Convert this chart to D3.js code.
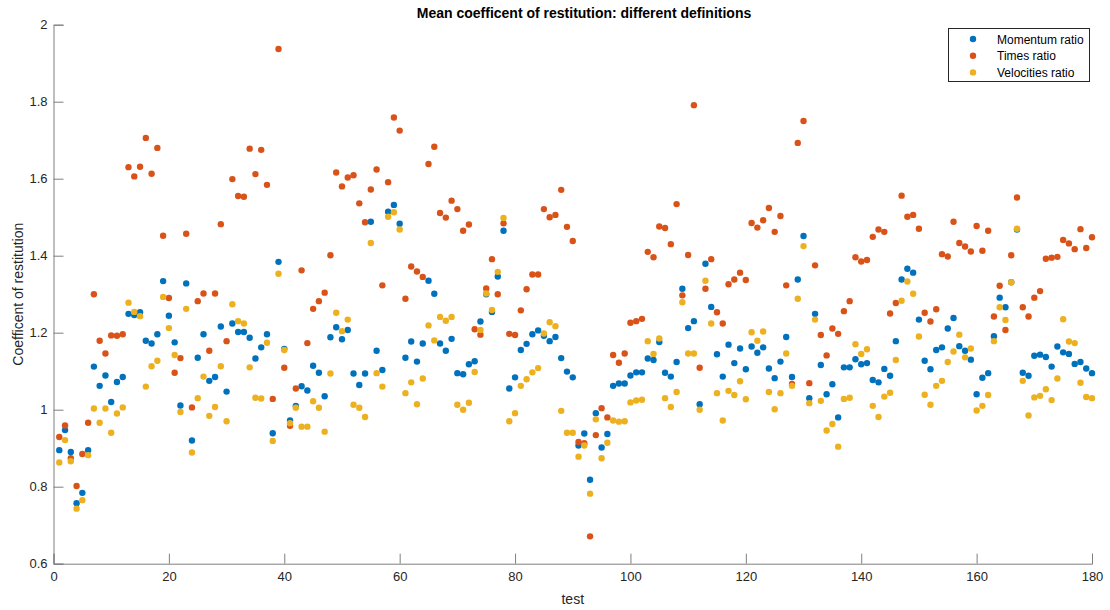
<!DOCTYPE html>
<html>
<head>
<meta charset="utf-8">
<script src="https://cdn.jsdelivr.net/npm/d3@7"></script>
<style>
  html, body { margin: 0; padding: 0; background: #fff; }
  svg { display: block; font-family: "Liberation Sans", Arial, Helvetica, sans-serif; }
</style>
</head>
<body>
<svg id="chart" width="1110" height="610"></svg>
<script>
// Mean coefficient of restitution per test, three definitions
const tests = d3.range(1, 181);

const momentumRatio = [
  0.895, 0.947, 0.890, 0.757, 0.784, 0.895, 1.112, 1.062, 1.089, 1.020,
  1.072, 1.085, 1.249, 1.246, 1.253, 1.179, 1.172, 1.196, 1.334, 1.244,
  1.175, 1.011, 1.328, 0.920, 1.135, 1.196, 1.075, 1.085, 1.216, 1.047,
  1.224, 1.202, 1.202, 1.187, 1.133, 1.162, 1.196, 0.939, 1.384, 1.158,
  0.972, 1.010, 1.061, 1.050, 1.114, 1.096, 1.035, 1.188, 1.214, 1.183,
  1.207, 1.094, 1.064, 1.094, 1.488, 1.153, 1.103, 1.514, 1.532, 1.483,
  1.135, 1.177, 1.125, 1.172, 1.335, 1.301, 1.172, 1.153, 1.184, 1.095,
  1.092, 1.118, 1.126, 1.229, 1.300, 1.254, 1.346, 1.465, 1.055, 1.084,
  1.155, 1.171, 1.196, 1.206, 1.192, 1.178, 1.189, 1.134, 1.099, 1.084,
  0.907, 0.938, 0.818, 0.991, 0.902, 0.937, 1.062, 1.068, 1.068, 1.089,
  1.097, 1.097, 1.133, 1.129, 1.176, 1.096, 1.086, 1.124, 1.314, 1.212,
  1.230, 1.014, 1.379, 1.267, 1.144, 1.086, 1.169, 1.121, 1.159, 1.105,
  1.164, 1.148, 1.162, 1.107, 1.082, 1.125, 1.189, 1.085, 1.338, 1.451,
  1.030, 1.249, 1.116, 1.040, 1.066, 0.980, 1.110, 1.110, 1.131, 1.118,
  1.121, 1.077, 1.071, 1.106, 1.088, 1.178, 1.338, 1.366, 1.356, 1.234,
  1.127, 1.105, 1.155, 1.162, 1.211, 1.238, 1.165, 1.153, 1.130, 1.040,
  1.083, 1.095, 1.191, 1.291, 1.266, 1.331, 1.468, 1.096, 1.088, 1.140,
  1.143, 1.137, 1.112, 1.164, 1.149, 1.145, 1.119, 1.124, 1.107, 1.095
];

const timesRatio = [
  0.929, 0.959, 0.874, 0.802, 0.885, 0.966, 1.300, 1.179, 1.146, 1.193,
  1.192, 1.196, 1.630, 1.606, 1.631, 1.706, 1.613, 1.680, 1.452, 1.290,
  1.096, 1.134, 1.457, 1.006, 1.282, 1.302, 1.153, 1.302, 1.482, 1.178,
  1.599, 1.555, 1.553, 1.678, 1.612, 1.675, 1.584, 1.028, 1.937, 1.109,
  0.958, 1.055, 1.362, 1.173, 1.262, 1.282, 1.304, 1.401, 1.616, 1.580,
  1.603, 1.609, 1.536, 1.487, 1.572, 1.624, 1.323, 1.591, 1.759, 1.725,
  1.288, 1.372, 1.359, 1.345, 1.638, 1.683, 1.511, 1.499, 1.543, 1.521,
  1.465, 1.481, 1.209, 1.195, 1.315, 1.391, 1.300, 1.484, 1.197, 1.194,
  1.258, 1.313, 1.351, 1.351, 1.521, 1.500, 1.506, 1.571, 1.475, 1.438,
  0.916, 0.913, 0.671, 0.934, 1.004, 0.980, 1.142, 1.122, 1.146, 1.226,
  1.230, 1.236, 1.410, 1.396, 1.476, 1.472, 1.430, 1.534, 1.297, 1.402,
  1.791, 1.109, 1.314, 1.391, 1.253, 1.224, 1.326, 1.338, 1.356, 1.337,
  1.485, 1.473, 1.492, 1.524, 1.462, 1.503, 1.323, 1.067, 1.693, 1.750,
  1.069, 1.375, 1.194, 1.141, 1.211, 1.197, 1.256, 1.282, 1.396, 1.385,
  1.389, 1.449, 1.468, 1.462, 1.250, 1.277, 1.556, 1.501, 1.506, 1.470,
  1.252, 1.229, 1.261, 1.404, 1.398, 1.488, 1.433, 1.424, 1.411, 1.477,
  1.413, 1.465, 1.242, 1.322, 1.207, 1.401, 1.551, 1.266, 1.242, 1.291,
  1.308, 1.392, 1.395, 1.397, 1.441, 1.432, 1.417, 1.469, 1.420, 1.448
];

const velocitiesRatio = [
  0.863, 0.921, 0.866, 0.743, 0.765, 0.882, 1.003, 0.966, 1.003, 0.940,
  0.990, 1.006, 1.278, 1.254, 1.243, 1.060, 1.113, 1.127, 1.293, 1.212,
  1.142, 0.994, 1.262, 0.889, 1.030, 1.086, 0.984, 1.007, 1.113, 0.970,
  1.274, 1.230, 1.224, 1.110, 1.031, 1.029, 1.174, 0.919, 1.353, 1.155,
  0.965, 1.005, 0.956, 0.956, 1.022, 1.005, 0.943, 1.094, 1.252, 1.204,
  1.234, 1.013, 1.005, 0.981, 1.433, 1.095, 1.060, 1.501, 1.513, 1.468,
  1.043, 1.071, 1.014, 1.081, 1.219, 1.180, 1.241, 1.231, 1.241, 1.013,
  1.000, 1.018, 1.098, 1.207, 1.302, 1.259, 1.358, 1.498, 0.970, 0.991,
  1.062, 1.079, 1.097, 1.108, 1.198, 1.227, 1.217, 0.997, 0.940, 0.940,
  0.878, 0.907, 0.782, 0.975, 0.874, 0.914, 0.972, 0.969, 0.970, 1.019,
  1.024, 1.026, 1.178, 1.145, 1.185, 1.030, 1.007, 1.046, 1.279, 1.146,
  1.146, 1.000, 1.335, 1.224, 1.043, 0.972, 1.049, 1.038, 1.074, 1.027,
  1.201, 1.179, 1.203, 1.046, 1.001, 1.043, 1.146, 1.062, 1.288, 1.425,
  1.017, 1.234, 1.023, 0.946, 0.963, 0.904, 1.028, 1.031, 1.170, 1.145,
  1.157, 1.010, 0.981, 1.034, 1.044, 1.129, 1.283, 1.333, 1.301, 1.190,
  1.039, 1.013, 1.062, 1.075, 1.124, 1.151, 1.195, 1.136, 1.159, 0.998,
  1.010, 1.038, 1.178, 1.266, 1.233, 1.331, 1.470, 1.075, 0.985, 1.032,
  1.036, 1.053, 1.025, 1.081, 1.235, 1.177, 1.173, 1.070, 1.033, 1.030
];

const seriesNames = ["Momentum ratio", "Times ratio", "Velocities ratio"];
const seriesColors = ["#0072BD", "#D95319", "#EDB120"];
const seriesValues = [momentumRatio, timesRatio, velocitiesRatio];

const xTicks = d3.range(0, 181, 20);
const yTicks = [0.6, 0.8, 1, 1.2, 1.4, 1.6, 1.8, 2];

const titleText = "Mean coefficent of restitution: different definitions";
const xLabel = "test";
const yLabel = "Coefficent of restitution";

// Layout
const margin = { left: 53.5, right: 1092, top: 24.7, bottom: 563.7 };
const axisColor = "#7f7f7f";
const textColor = "#262626";

const svg = d3.select("#chart");

const x = d3.scaleLinear().domain([0, 180]).range([margin.left, margin.right]);
const y = d3.scaleLinear().domain([0.6, 2]).range([margin.bottom, margin.top]);

// Axes with inward ticks
const xAxis = d3.axisBottom(x).tickValues(xTicks).tickSize(-10).tickPadding(8).tickFormat(d3.format("d"));
const yAxis = d3.axisLeft(y).tickValues(yTicks).tickSize(-10).tickPadding(6).tickFormat(d => String(+d.toFixed(1)));

const gx = svg.append("g").attr("transform", `translate(0,${margin.bottom})`).call(xAxis);
const gy = svg.append("g").attr("transform", `translate(${margin.left},0)`).call(yAxis);

[gx, gy].forEach(g => {
  g.select(".domain").attr("stroke", axisColor).attr("stroke-width", 1);
  g.selectAll(".tick line").attr("stroke", axisColor).attr("stroke-width", 1);
  g.selectAll(".tick text").attr("fill", textColor).attr("font-size", 13)
    .attr("font-family", "Liberation Sans, Arial, sans-serif");
});

// Points, drawn series by series
seriesValues.forEach((vals, i) => {
  svg.append("g")
    .selectAll("circle")
    .data(vals.map((v, k) => ({ t: tests[k], v })))
    .join("circle")
    .attr("cx", d => x(d.t))
    .attr("cy", d => y(d.v))
    .attr("r", 3.2)
    .attr("fill", seriesColors[i]);
});

// Title and axis labels
svg.append("text")
  .attr("x", 584)
  .attr("y", 18)
  .attr("text-anchor", "middle")
  .attr("font-weight", "bold")
  .attr("font-size", 14)
  .attr("fill", "#000")
  .text(titleText);

svg.append("text")
  .attr("x", (margin.left + margin.right) / 2)
  .attr("y", 604)
  .attr("text-anchor", "middle")
  .attr("font-size", 14)
  .attr("fill", textColor)
  .text(xLabel);

svg.append("text")
  .attr("transform", `translate(23,${(margin.top + margin.bottom) / 2}) rotate(-90)`)
  .attr("text-anchor", "middle")
  .attr("font-size", 14)
  .attr("fill", textColor)
  .text(yLabel);

// Legend
const legend = svg.append("g").attr("transform", "translate(948.5,28.5)");
legend.append("rect")
  .attr("width", 141).attr("height", 53)
  .attr("fill", "#fff").attr("stroke", "#262626").attr("stroke-width", 1);

seriesNames.forEach((name, i) => {
  const row = legend.append("g").attr("transform", `translate(0,${10.5 + i * 16.7})`);
  row.append("circle").attr("cx", 24.5).attr("cy", 0).attr("r", 3.2).attr("fill", seriesColors[i]);
  row.append("text").attr("x", 48.5).attr("y", 4.5)
    .attr("font-size", 12).attr("fill", "#000").text(name);
});
</script>
</body>
</html>
